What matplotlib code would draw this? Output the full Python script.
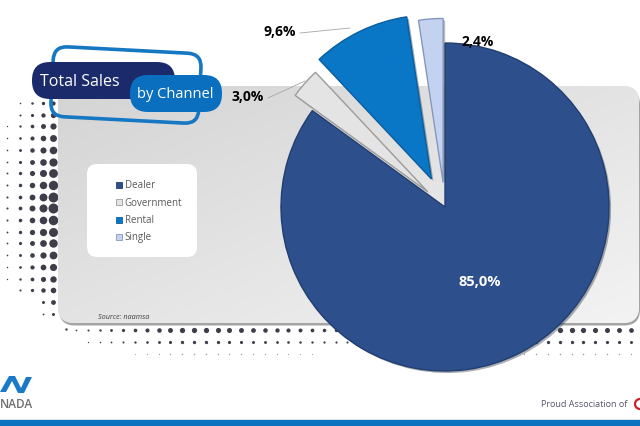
import numpy as np
import matplotlib
matplotlib.use("Agg")
import matplotlib.pyplot as plt
from matplotlib.patches import FancyBboxPatch, Rectangle, Circle, Polygon
from matplotlib import patheffects as pe
import matplotlib.transforms as mtransforms

# ---- data ----
channels = ["Dealer", "Government", "Rental", "Single"]
shares = [85.0, 3.0, 9.6, 2.4]
share_labels = ["85,0%", "3,0%", "9,6%", "2,4%"]
colors = ["#2D4F8B", "#E4E4E4", "#0A76C6", "#C3D3EF"]
edge_colors = ["#223E70", "#9C9C9C", "#0A5E9E", "#8497C0"]
title_main = "Total Sales"
title_sub = "by Channel"
source = "Source: naamsa"

W, H = 640, 427
fig = plt.figure(figsize=(6.4, 4.27), dpi=100)
ax = fig.add_axes([0, 0, 1, 1])
ax.set_xlim(0, W)
ax.set_ylim(0, H)
ax.axis("off")
fig.patch.set_facecolor("white")


def Y(y):
    return H - y


def dot(x, y, d, alpha=1.0):
    ax.scatter(x, Y(y), s=(d * 0.72 * 1.2) ** 2, color="#3E3E4A", lw=0,
               zorder=1, alpha=alpha)

# ---- halftone dots (decoration) ----
cols_x = np.array([7, 20, 32, 43, 53])
base_d = np.array([1.8, 3.2, 5.0, 6.8, 8.5])
rows_y = np.arange(104, 300, 11.7)
for i, cx in enumerate(cols_x):
    for ry in rows_y:
        fade = max(0.0, 1 - abs(ry - 205) / 110.0) ** 0.6
        d = base_d[i] * (0.25 + 0.75 * fade)
        if d > 1.0:
            dot(cx, ry, d)
for (qx, qy, d) in [(53, 303, 4), (53, 315, 2.5), (64, 319, 3), (66, 330, 2),
                    (43, 303, 2.5), (43, 315, 1.5)]:
    dot(qx, qy, d)
rows_b = [331, 343, 355]
row_d = [4.4, 2.8, 1.3]
for j, ry in enumerate(rows_b):
    for bx in np.arange(76, 645, 11.8):
        fade = min(1.0, (bx - 60) / 120.0)
        wave = 0.8 + 0.2 * np.cos((bx - 190) / 60.0)
        d = row_d[j] * (0.35 + 0.65 * fade) * wave
        if d > 0.9:
            dot(bx, ry, d, 1.0 if j < 2 else 0.5)

# ---- grey panel with gradient ----
px0, py0, px1, py1 = 58, 87, 639, 324
shadow = FancyBboxPatch((px0 + 1, Y(py1) - 2.5), px1 - px0, py1 - py0,
                        boxstyle="round,pad=0,rounding_size=16",
                        fc="#8E8E8E", ec="none", zorder=2, alpha=0.8)
ax.add_patch(shadow)
panel = FancyBboxPatch((px0, Y(py1)), px1 - px0, py1 - py0,
                       boxstyle="round,pad=0,rounding_size=16",
                       fc="#E2E2E2", ec="none", zorder=3)
ax.add_patch(panel)
gx = np.linspace(0, 1, 200)
gy = np.linspace(0, 1, 100)
GX, GY = np.meshgrid(gx, gy)
grad = 0.5 * GX + 0.5 * GY
im = ax.imshow(grad, extent=[px0, px1, Y(py1), Y(py0)], origin="upper",
               cmap=matplotlib.colors.LinearSegmentedColormap.from_list(
                   "g", ["#D4D4D4", "#F3F3F3"]), aspect="auto", zorder=3.5)
im.set_clip_path(panel)

# ---- legend box ----
lb = FancyBboxPatch((87, Y(258)), 110, 93, boxstyle="round,pad=0,rounding_size=10",
                    fc="white", ec="none", zorder=5)
ax.add_patch(lb)
for k, (name, c, ec) in enumerate(zip(channels, colors, edge_colors)):
    yy = 186 + k * 17.3
    ax.add_patch(Rectangle((116, Y(yy) - 3), 6, 6, fc=c, ec=ec, lw=0.6, zorder=6))
    ax.text(124.5, Y(yy), name, fontsize=7, color="#595959", va="center",
            ha="left", family="Open Sans", zorder=6)

ax.text(98, Y(318), source, fontsize=5.2, color="#404040", style="italic",
        ha="left", va="center", family="Open Sans", zorder=6)

# ---- pie ----
cx, cy, R = 445, Y(208), 164
explode = [0, 0.14, 0.19, 0.15]
wedges, _ = ax.pie(shares, colors=colors, startangle=90, counterclock=False,
                   explode=[e * R for e in explode], center=(cx, cy), radius=R,
                   wedgeprops=dict(lw=1.0), frame=True)
for w, ec in zip(wedges, edge_colors):
    w.set_edgecolor(ec)
    w.set_zorder(8)
    w.set_path_effects([pe.SimplePatchShadow(offset=(1.5, -1.5), alpha=0.35),
                        pe.Normal()])
ax.set_xlim(0, W)
ax.set_ylim(0, H)
ax.set_aspect("auto")
ax.axis("off")

# labels
ax.text(480, Y(282), share_labels[0], color="white", fontsize=10.5,
        fontweight="bold", ha="center", va="center", family="Open Sans", zorder=10)
ax.text(248, Y(97), share_labels[1], color="black", fontsize=10,
        fontweight="bold", ha="center", va="center", family="Open Sans", zorder=10)
ax.text(280, Y(32), share_labels[2], color="black", fontsize=10,
        fontweight="bold", ha="center", va="center", family="Open Sans", zorder=10)
ax.text(478, Y(42), share_labels[3], color="black", fontsize=10,
        fontweight="bold", ha="center", va="center", family="Open Sans", zorder=10)
ax.plot([268, 305], [Y(99), Y(82)], color="#A6A6A6", lw=0.6, zorder=7)
ax.plot([300, 350], [Y(34), Y(29)], color="#A6A6A6", lw=0.6, zorder=7)
ax.plot([434, 446], [Y(49), Y(47)], color="#A6A6A6", lw=0.6, zorder=7)

# ---- title badges ----
outline = FancyBboxPatch((52, Y(121)), 148, 70, boxstyle="round,pad=0,rounding_size=14",
                         fc="none", ec="#1677C2", lw=2.6, zorder=11)
rot = mtransforms.Affine2D().rotate_deg_around(126, Y(85), -3) + ax.transData
outline.set_transform(rot)
ax.add_patch(outline)
navy = FancyBboxPatch((32, Y(100)), 143, 37, boxstyle="round,pad=0,rounding_size=18",
                      fc="#1B2A6B", ec="none", zorder=12)
ax.add_patch(navy)
ax.text(40, Y(82), title_main, color="white", fontsize=11.5, ha="left", va="center",
        family="Open Sans", zorder=13)
blue = FancyBboxPatch((130, Y(113)), 92, 37, boxstyle="round,pad=0,rounding_size=18",
                      fc="#0B6FBF", ec="none", zorder=14)
ax.add_patch(blue)
ax.text(175, Y(95), title_sub, color="white", fontsize=10.5, ha="center", va="center",
        family="Open Sans", zorder=15)

# ---- footer ----
ax.add_patch(Rectangle((0, 0), W, 6, fc="#0B72BF", ec="none", zorder=20))
ax.add_patch(Rectangle((0, 6), W, 1.5, fc="#D6E6F4", ec="none", zorder=20))
logo = Polygon([[0, Y(393)], [9, Y(377)], [15, Y(377)], [21, Y(389)], [26, Y(378)],
                [32, Y(378)], [24, Y(394)], [18, Y(394)], [12, Y(382)], [6, Y(393)]],
               closed=True, fc="#1A7AC8", ec="none", zorder=20)
ax.add_patch(logo)
ax.text(0, Y(405), "NADA", fontsize=8.5, color="#6E6E6E", ha="left", va="center",
        family="Open Sans", fontweight="semibold", zorder=20)
ax.text(541, Y(405), "Proud Association of", fontsize=6.5, color="#55556A",
        ha="left", va="center", family="Open Sans", zorder=20)
ax.add_patch(Circle((640, Y(405)), 5, fc="white", ec="#D01F2E", lw=1.6, zorder=20))

fig.savefig("out.png", dpi=100)
